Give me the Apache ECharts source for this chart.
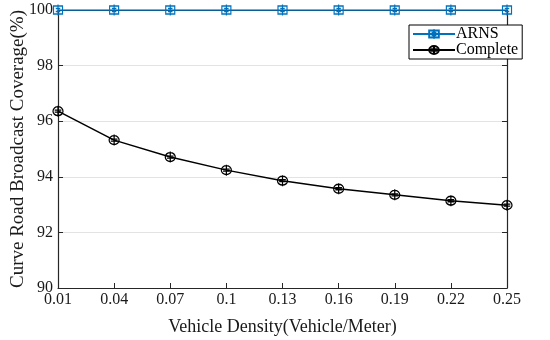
<!DOCTYPE html>
<html>
<head>
<meta charset="utf-8">
<script src="https://cdn.jsdelivr.net/npm/echarts@6/dist/echarts.min.js"></script>
<style>html,body{margin:0;padding:0;background:#fff}#c{width:550px;height:340px}</style>
</head>
<body>
<div id="c"></div>
<script>
var categories = ['0.01','0.04','0.07','0.1','0.13','0.16','0.19','0.22','0.25'];
var arns = [100, 100, 100, 100, 100, 100, 100, 100, 100];
var complete = [96.36, 95.32, 94.71, 94.24, 93.86, 93.57, 93.35, 93.14, 92.98];
var yTicks = [90, 92, 94, 96, 98, 100];

var FONT = '"Liberation Serif", "Times New Roman", serif';
var AX = '#262626';
var BLUE = '#0072BD';
var sqSym = 'path://M0.5,1.5 L8.5,1.5 L8.5,9.5 L0.5,9.5 Z M4.5,0 L4.5,11 M2.5,4 L6.5,4 M2.5,7 L6.5,7';
var ciSym = 'path://M9,5.5 A4.5,4.5 0 1 1 0,5.5 A4.5,4.5 0 1 1 9,5.5 Z M4.5,0 L4.5,11 M1.5,4.5 L7.5,4.5 M1.5,6.5 L7.5,6.5';

var chart = echarts.init(document.getElementById('c'), null, {renderer: 'canvas'});
chart.setOption({
  animation: false,
  backgroundColor: '#fff',
  grid: {left: 58, right: 43, top: 10, bottom: 52, containLabel: false, outerBoundsMode: 'none'},
  legend: {
    left: 409, top: 25, orient: 'vertical',
    itemWidth: 42, itemHeight: 12, itemGap: 0,
    padding: [1, 4, 1, 3],
    borderColor: '#000', borderWidth: 1, backgroundColor: '#fff', borderRadius: 0,
    textStyle: {fontFamily: FONT, fontSize: 16, color: '#000', padding: [0, 0, 0, -4]},
    data: ['ARNS', 'Complete']
  },
  xAxis: [{
    type: 'category', data: categories, boundaryGap: false,
    name: 'Vehicle Density(Vehicle/Meter)', nameLocation: 'middle', nameGap: 30,
    nameTextStyle: {fontFamily: FONT, fontSize: 18, color: '#1a1a1a'},
    axisLine: {lineStyle: {color: AX, width: 1.2}},
    axisTick: {inside: true, length: 5, lineStyle: {color: AX}},
    axisLabel: {fontFamily: FONT, fontSize: 16, color: '#1a1a1a', margin: 4},
    splitLine: {show: false}
  }, {
    type: 'category', data: categories, boundaryGap: false, position: 'top',
    axisLine: {lineStyle: {color: AX, width: 1.2}},
    axisTick: {show: false}, axisLabel: {show: false}, splitLine: {show: false}
  }],
  yAxis: [{
    type: 'value', min: 90, max: 100, interval: 2,
    name: 'Curve Road Broadcast Coverage(%)', nameLocation: 'middle', nameGap: 30,
    nameMoveOverlap: false,
    nameTextStyle: {fontFamily: FONT, fontSize: 19, color: '#1a1a1a'},
    axisLine: {show: true, lineStyle: {color: AX, width: 1.2}},
    axisTick: {show: true, inside: true, length: 5, lineStyle: {color: AX}},
    axisLabel: {fontFamily: FONT, fontSize: 16, color: '#1a1a1a', margin: 5,
      formatter: function (v) { return yTicks.indexOf(v) >= 0 ? String(v) : ''; }},
    splitLine: {show: true, lineStyle: {color: '#e3e3e3', width: 1}}
  }, {
    type: 'value', min: 90, max: 100, interval: 2, position: 'right',
    axisLine: {show: true, lineStyle: {color: AX, width: 1.2}},
    axisTick: {show: true, inside: true, length: 5, lineStyle: {color: AX}},
    axisLabel: {show: false}, splitLine: {show: false}
  }],
  series: [{
    name: 'ARNS', type: 'line', data: arns, xAxisIndex: 0, yAxisIndex: 0,
    symbol: sqSym, symbolSize: [9, 11], showAllSymbol: true,
    lineStyle: {color: BLUE, width: 1.5},
    itemStyle: {color: 'rgba(0,0,0,0)', borderColor: BLUE, borderWidth: 1.3},
    z: 5
  }, {
    name: 'Complete', type: 'line', data: complete, xAxisIndex: 0, yAxisIndex: 0,
    symbol: ciSym, symbolSize: [10, 11], showAllSymbol: true,
    lineStyle: {color: '#000', width: 1.5},
    itemStyle: {color: 'rgba(0,0,0,0)', borderColor: '#000', borderWidth: 1.3},
    z: 5
  }]
});
</script>
</body>
</html>
